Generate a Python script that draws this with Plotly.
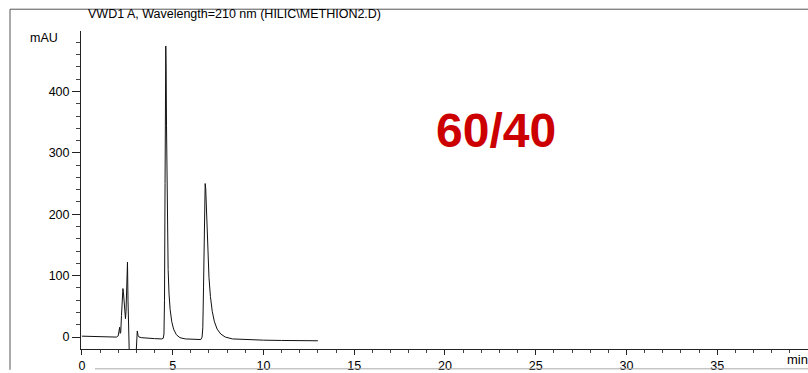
import plotly.graph_objects as go

# Retention time (min) and absorbance (mAU)
time_min = [0.0, 0.5, 1.0, 1.5, 1.9, 2.0, 2.05, 2.08, 2.11, 2.14, 2.18, 2.22, 2.26, 2.29,
            2.33, 2.37, 2.40, 2.43, 2.46, 2.49, 2.51, 2.54, 2.57, 2.62, 2.75, 2.9, 2.98,
            3.02, 3.05, 3.09, 3.15, 3.3, 3.6, 4.0, 4.4, 4.48, 4.52, 4.55, 4.58, 4.60,
            4.62, 4.64, 4.66, 4.68, 4.71, 4.75, 4.80, 4.86, 4.95, 5.05, 5.2, 5.4, 5.7,
            6.2, 6.55, 6.62, 6.66, 6.70, 6.73, 6.76, 6.79, 6.82, 6.86, 6.90, 6.95, 7.00,
            7.08, 7.18, 7.30, 7.45, 7.65, 7.9, 8.3, 9.0, 10.0, 11.0, 12.0, 13.0]
absorb_mau = [1.5, 1.2, 1.0, 0.5, 0.0, 2.0, 12.0, 16.0, 6.0, 8.0, 35.0, 68.0, 79.0, 72.0,
              55.0, 38.0, 30.0, 42.0, 70.0, 110.0, 122.0, 60.0, -10.0, -40.0, -45.0, -42.0,
              -30.0, 8.0, 10.0, 3.0, 0.0, -1.0, -2.0, -2.5, -3.0, -2.0, 5.0, 60.0, 250.0,
              420.0, 474.0, 435.0, 345.0, 250.0, 170.0, 110.0, 70.0, 45.0, 25.0, 13.0, 4.0,
              -1.0, -3.0, -4.0, -4.0, 0.0, 15.0, 80.0, 170.0, 235.0, 250.0, 242.0, 205.0,
              168.0, 128.0, 97.0, 66.0, 42.0, 25.0, 13.0, 5.0, 0.0, -3.0, -4.0, -5.0, -5.5,
              -6.0, -6.0]

x_tick_vals = [0, 5, 10, 15, 20, 25, 30, 35]
y_tick_vals = [0, 100, 200, 300, 400]

title_text = "VWD1 A, Wavelength=210 nm (HILIC\\METHION2.D)"
ratio_label = "60/40"

FONT = "Liberation Sans, Arial, sans-serif"

fig = go.Figure()
fig.add_trace(go.Scatter(x=time_min, y=absorb_mau, mode="lines",
                         line=dict(color="#111111", width=1), hoverinfo="skip"))

fig.update_layout(
    width=808, height=373,
    margin=dict(l=81, r=0, t=31, b=21),
    paper_bgcolor="white", plot_bgcolor="white",
    showlegend=False,
    font=dict(family=FONT, size=12, color="black"),
    xaxis=dict(range=[-0.05, 40], tickvals=x_tick_vals, showgrid=False, zeroline=False,
               showline=True, linecolor="#222222", linewidth=1,
               ticks="outside", ticklen=5, tickcolor="#222222",
               minor=dict(dtick=1, ticks="outside", ticklen=3, tickcolor="#444444"),
               tickfont=dict(family=FONT, size=12.5, color="black")),
    yaxis=dict(range=[-19.4, 498.4], tickvals=y_tick_vals, showgrid=False, zeroline=False,
               showline=True, linecolor="#222222", linewidth=1,
               ticks="outside", ticklen=8, tickcolor="#222222",
               minor=dict(dtick=20, ticks="outside", ticklen=4, tickcolor="#444444"),
               tickfont=dict(family=FONT, size=12.5, color="black")),
)

# Frame lines of the printed report
fig.add_shape(type="line", xref="paper", yref="paper", x0=-71/727, x1=1.0,
              y0=1 + 22/321, y1=1 + 22/321, line=dict(color="#555555", width=1))
fig.add_shape(type="line", xref="paper", yref="paper", x0=-71/727, x1=-71/727,
              y0=1 + 22/321, y1=-21/321, line=dict(color="#555555", width=1))
fig.add_shape(type="line", xref="paper", yref="paper", x0=14/727, x1=1.0,
              y0=-20/321, y1=-20/321, line=dict(color="#aaaaaa", width=1))

fig.add_annotation(text=title_text, xref="paper", yref="paper", x=(234 - 81) / 727,
                   y=1 + 17/321, xanchor="center", yanchor="middle", showarrow=False,
                   font=dict(family=FONT, size=12.5, color="black"))
fig.add_annotation(text="mAU", xref="paper", yref="paper", x=(44 - 81) / 727,
                   y=(352 - 38) / 321, xanchor="center", yanchor="middle", showarrow=False,
                   font=dict(family=FONT, size=12.5, color="black"))
fig.add_annotation(text="min", xref="paper", yref="paper", x=(785 - 81) / 727,
                   y=-11/321, xanchor="left", yanchor="middle", showarrow=False,
                   font=dict(family=FONT, size=13, color="black"))
fig.add_annotation(text="<b>" + ratio_label + "</b>", xref="paper", yref="paper",
                   x=(496 - 81) / 727, y=(352 - 131) / 321, xanchor="center",
                   yanchor="middle", showarrow=False,
                   font=dict(family=FONT, size=48, color="#cc0000"))

fig.write_html("out.html")
